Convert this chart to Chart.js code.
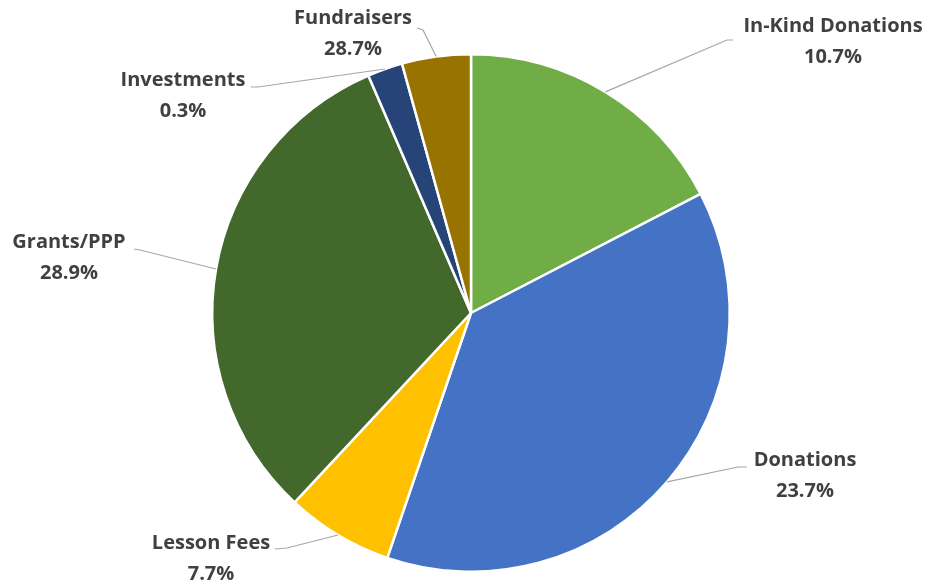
<!DOCTYPE html>
<html lang="en">
<head>
  <meta charset="UTF-8">
  <title>Revenue</title>
  <script src="https://cdn.jsdelivr.net/npm/chart.js@4.4.1/dist/chart.umd.min.js"></script>
  <style>
    body { margin: 0; background: #fff; }
  </style>
</head>
<body>
  <canvas id="myChart" width="933" height="583"></canvas>
  <script>
    const categories = ['In-Kind Donations', 'Donations', 'Lesson Fees', 'Grants/PPP', 'Investments', 'Fundraisers'];
    // slice sizes as drawn (share of the circle, %)
    const sliceValues = [17.4, 37.9, 6.7, 31.6, 2.2, 4.3];
    // percentages as printed on the labels
    const labelPercents = ['10.7%', '23.7%', '7.7%', '28.9%', '0.3%', '28.7%'];
    const colors = ['#70AD47', '#4472C4', '#FFC000', '#43682B', '#264478', '#997300'];

    // label placement: text centre x, first line y, elbow and line end
    const labelLayout = [
      { x: 833, y: 26, elbow: [727, 40], end: [733, 40] },
      { x: 805, y: 460, elbow: [738, 467], end: [747, 467] },
      { x: 211, y: 543, elbow: [287, 548], end: [275, 549] },
      { x: 69, y: 242, elbow: [140, 250], end: [134, 249] },
      { x: 183, y: 80, elbow: [258, 87], end: [251, 87] },
      { x: 353, y: 18, elbow: [423, 30], end: [417, 28] }
    ];

    const labelPlugin = {
      id: 'outLabels',
      afterDatasetsDraw(chart) {
        const ctx = chart.ctx;
        const arcs = chart.getDatasetMeta(0).data;
        ctx.save();
        arcs.forEach((arc, i) => {
          const p = arc.getProps(['x', 'y', 'startAngle', 'endAngle', 'outerRadius'], true);
          const mid = (p.startAngle + p.endAngle) / 2;
          const ax = p.x + Math.cos(mid) * p.outerRadius;
          const ay = p.y + Math.sin(mid) * p.outerRadius;
          const l = labelLayout[i];
          ctx.strokeStyle = '#A6A6A6';
          ctx.lineWidth = 1.2;
          ctx.beginPath();
          ctx.moveTo(ax, ay);
          ctx.lineTo(l.elbow[0], l.elbow[1]);
          ctx.lineTo(l.end[0], l.end[1]);
          ctx.stroke();
          ctx.fillStyle = '#404040';
          ctx.font = 'bold 20px "Open Sans"';
          ctx.textAlign = 'center';
          ctx.textBaseline = 'middle';
          ctx.fillText(categories[i], l.x, l.y);
          ctx.fillText(labelPercents[i], l.x, l.y + 31);
        });
        ctx.restore();
      }
    };

    const ctx = document.getElementById('myChart').getContext('2d');
    const myChart = new Chart(ctx, {
      type: 'pie',
      data: {
        labels: categories,
        datasets: [{
          data: sliceValues,
          backgroundColor: colors,
          borderColor: '#ffffff',
          borderWidth: 2.5
        }]
      },
      options: {
        responsive: false,
        animation: false,
        layout: { padding: { top: 53, bottom: 10, left: 211, right: 202 } },
        plugins: {
          legend: { display: false },
          tooltip: { enabled: false }
        }
      },
      plugins: [labelPlugin]
    });
  </script>
</body>
</html>
